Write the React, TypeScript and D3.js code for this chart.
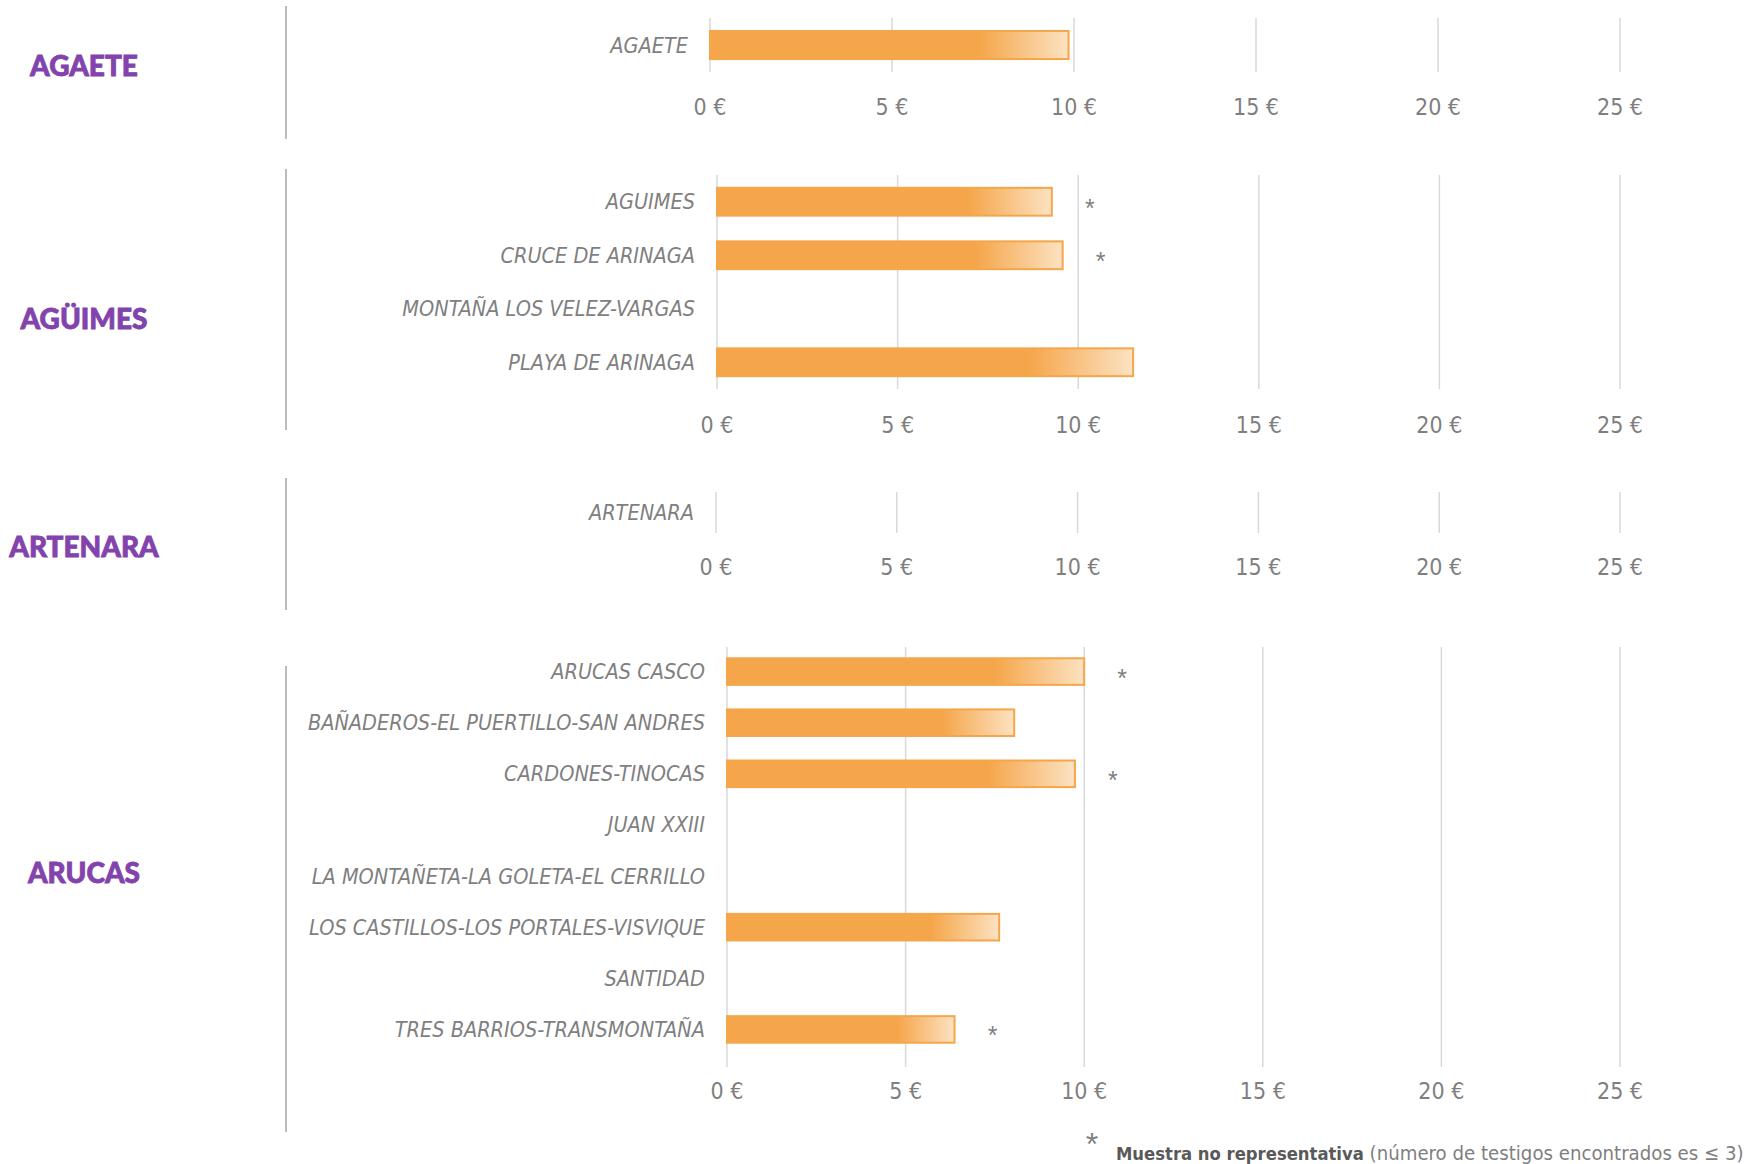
import React from 'react';
import * as d3 from 'd3';

const W = 1762;
const H = 1164;

// municipios y barrios
const agaeteZones = ['AGAETE'];
const agaeteValues = [9.85];
const agaeteFlags = [false];

const aguimesZones = ['AGUIMES', 'CRUCE DE ARINAGA', 'MONTAÑA LOS VELEZ-VARGAS', 'PLAYA DE ARINAGA'];
const aguimesValues = [9.27, 9.57, null, 11.52];
const aguimesFlags = [true, true, false, false];

const artenaraZones = ['ARTENARA'];
const artenaraValues = [null];
const artenaraFlags = [false];

const arucasZones = [
  'ARUCAS CASCO',
  'BAÑADEROS-EL PUERTILLO-SAN ANDRES',
  'CARDONES-TINOCAS',
  'JUAN XXIII',
  'LA MONTAÑETA-LA GOLETA-EL CERRILLO',
  'LOS CASTILLOS-LOS PORTALES-VISVIQUE',
  'SANTIDAD',
  'TRES BARRIOS-TRANSMONTAÑA',
];
const arucasValues = [10.0, 8.04, 9.74, null, null, 7.62, null, 6.37];
const arucasFlags = [true, false, true, false, false, false, false, true];

const ticks = [0, 5, 10, 15, 20, 25];

// layout de cada bloque (posiciones en px)
const panels = [
  { name: 'AGAETE', zones: agaeteZones, values: agaeteValues, flags: agaeteFlags,
    x0: 710, band: [18, 72], grid: [18, 72], tickY: 107, nameY: 65, sep: [6, 139] },
  { name: 'AGÜIMES', zones: aguimesZones, values: aguimesValues, flags: aguimesFlags,
    x0: 717, band: [175, 389], grid: [175, 389], tickY: 425, nameY: 318, sep: [169, 430] },
  { name: 'ARTENARA', zones: artenaraZones, values: artenaraValues, flags: artenaraFlags,
    x0: 716, band: [492, 533], grid: [492, 533], tickY: 567, nameY: 546, sep: [478, 610] },
  { name: 'ARUCAS', zones: arucasZones, values: arucasValues, flags: arucasFlags,
    x0: 727, band: [646, 1055], grid: [647, 1067], tickY: 1091, nameY: 872, sep: [666, 1132] },
];

const X_END = 1620;
const GRAY = '#7F7F7F';
const ORANGE = '#F5A64A';
const PURPLE = '#8243AD';
const narrow = "'Liberation Sans Narrow', 'DejaVu Sans Condensed', 'Open Sans', sans-serif";

const Panel = ({ p }) => {
  const x = d3.scaleLinear().domain([0, 25]).range([p.x0, X_END]);
  const y = d3.scaleBand().domain(p.zones).range(p.band).padding(0);
  const barH = y.bandwidth() * 0.52;
  return (
    <g>
      <line x1={286} x2={286} y1={p.sep[0]} y2={p.sep[1]} stroke="#A6A6A6" strokeWidth={1.5} />
      <text x={84} y={p.nameY} textAnchor="middle" dominantBaseline="central"
        fontFamily="Lato, 'DejaVu Sans', sans-serif" fontWeight={900} fontSize={28} fill={PURPLE}
        stroke={PURPLE} strokeWidth={0.8}>
        {p.name}
      </text>
      {ticks.map((t) => (
        <line key={'g' + t} x1={x(t)} x2={x(t)} y1={p.grid[0]} y2={p.grid[1]} stroke="#D9D9D9" strokeWidth={1.5} />
      ))}
      {ticks.map((t) => (
        <text key={'t' + t} x={x(t)} y={p.tickY} textAnchor="middle" dominantBaseline="central"
          fontFamily={narrow} fontSize={23} fill={GRAY}>
          {t} €
        </text>
      ))}
      {p.zones.map((z, i) => {
        const cy = y(z) + y.bandwidth() / 2;
        const v = p.values[i];
        return (
          <g key={z}>
            <text x={p.x0 - 22} y={cy} textAnchor="end" dominantBaseline="central"
              fontFamily={narrow} fontStyle="italic" fontSize={21.5} fill={GRAY}>
              {z}
            </text>
            {v != null && (
              <rect x={x(0)} y={cy - barH / 2} width={x(v) - x(0)} height={barH}
                fill="url(#barGrad)" stroke={ORANGE} strokeWidth={2} />
            )}
            {v != null && p.flags[i] && (
              <text x={x(v) + 38} y={cy + 6} textAnchor="middle" dominantBaseline="central"
                fontFamily="'Liberation Sans', sans-serif" fontSize={25} fill={GRAY}>
                *
              </text>
            )}
          </g>
        );
      })}
    </g>
  );
};

export default function App() {
  return (
    <svg width={W} height={H} style={{ position: 'absolute', left: 0, top: 0, background: '#fff' }}>
      <defs>
        <linearGradient id="barGrad" x1="0" x2="1" y1="0" y2="0">
          <stop offset="0" stopColor={ORANGE} />
          <stop offset="0.75" stopColor={ORANGE} />
          <stop offset="1" stopColor="#FCE2C2" />
        </linearGradient>
      </defs>
      <rect width={W} height={H} fill="#fff" />
      {panels.map((p) => (
        <Panel key={p.name} p={p} />
      ))}
      <text x={1092} y={1155} textAnchor="middle" fontFamily="'Liberation Sans', sans-serif" fontSize={32} fill={GRAY}>
        *
      </text>
      <text x={1116} y={1160} fontFamily={narrow}>
        <tspan fill="#595959" fontWeight={700} fontSize={18.3}>Muestra no representativa</tspan>
        <tspan fill={GRAY} fontSize={20.2}> (número de testigos encontrados es ≤ 3)</tspan>
      </text>
    </svg>
  );
}
